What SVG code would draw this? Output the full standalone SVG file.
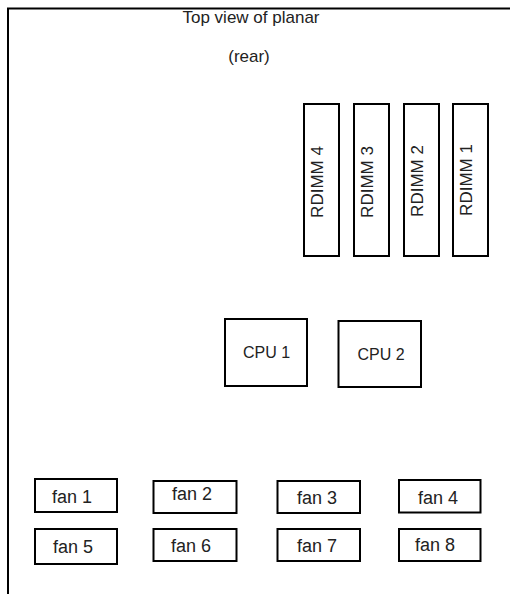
<svg xmlns="http://www.w3.org/2000/svg" width="510" height="594" viewBox="0 0 510 594">
<style>
.box{fill:#fff;stroke:#000;stroke-width:2}
.frame{fill:none;stroke:#000;stroke-width:2}
text{font-family:"Liberation Sans",Arial,sans-serif;fill:#222}
.t16{font-size:16px}
.t17{font-size:17px}
.fan{font-size:18px}
</style>
<rect width="510" height="594" fill="#fff"/>
<g id="frame">
<polyline class="frame" points="8,594 8,8.5 510,8.5"/>
</g>
<g id="title">
<text class="t17" x="251" y="23" text-anchor="middle">Top view of planar</text>
<text class="t17" x="249" y="62" text-anchor="middle">(rear)</text>
</g>
<g id="rdimm4"><rect class="box" x="304" y="104" width="35" height="152"/><text class="t17" transform="translate(323,182) rotate(-90)" text-anchor="middle">RDIMM 4</text></g>
<g id="rdimm3"><rect class="box" x="354" y="104" width="35" height="152"/><text class="t17" transform="translate(373,182) rotate(-90)" text-anchor="middle">RDIMM 3</text></g>
<g id="rdimm2"><rect class="box" x="404" y="104" width="35" height="152"/><text class="t17" transform="translate(423,181) rotate(-90)" text-anchor="middle">RDIMM 2</text></g>
<g id="rdimm1"><rect class="box" x="453" y="104" width="35" height="152"/><text class="t17" transform="translate(472,180) rotate(-90)" text-anchor="middle">RDIMM 1</text></g>
<g id="cpu1"><rect class="box" x="225" y="319" width="82" height="67"/><text class="t16" x="243" y="358">CPU 1</text></g>
<g id="cpu2"><rect class="box" x="338.5" y="321" width="82.5" height="66"/><text class="t16" x="357.5" y="360">CPU 2</text></g>
<g id="fan1"><rect class="box" x="35" y="479" width="82" height="33"/><text class="fan" x="52" y="503">fan 1</text></g>
<g id="fan2"><rect class="box" x="153.5" y="481" width="83" height="32"/><text class="fan" x="172" y="500">fan 2</text></g>
<g id="fan3"><rect class="box" x="277.5" y="481" width="82.5" height="32"/><text class="fan" x="297" y="504">fan 3</text></g>
<g id="fan4"><rect class="box" x="399" y="480" width="81.5" height="32.5"/><text class="fan" x="418" y="504">fan 4</text></g>
<g id="fan5"><rect class="box" x="35" y="529" width="82" height="35"/><text class="fan" x="53" y="553">fan 5</text></g>
<g id="fan6"><rect class="box" x="153.5" y="529" width="83" height="32"/><text class="fan" x="171" y="552">fan 6</text></g>
<g id="fan7"><rect class="box" x="277.5" y="529" width="82.5" height="32"/><text class="fan" x="297" y="552">fan 7</text></g>
<g id="fan8"><rect class="box" x="399" y="529" width="81.5" height="32"/><text class="fan" x="415" y="551">fan 8</text></g>
</svg>
